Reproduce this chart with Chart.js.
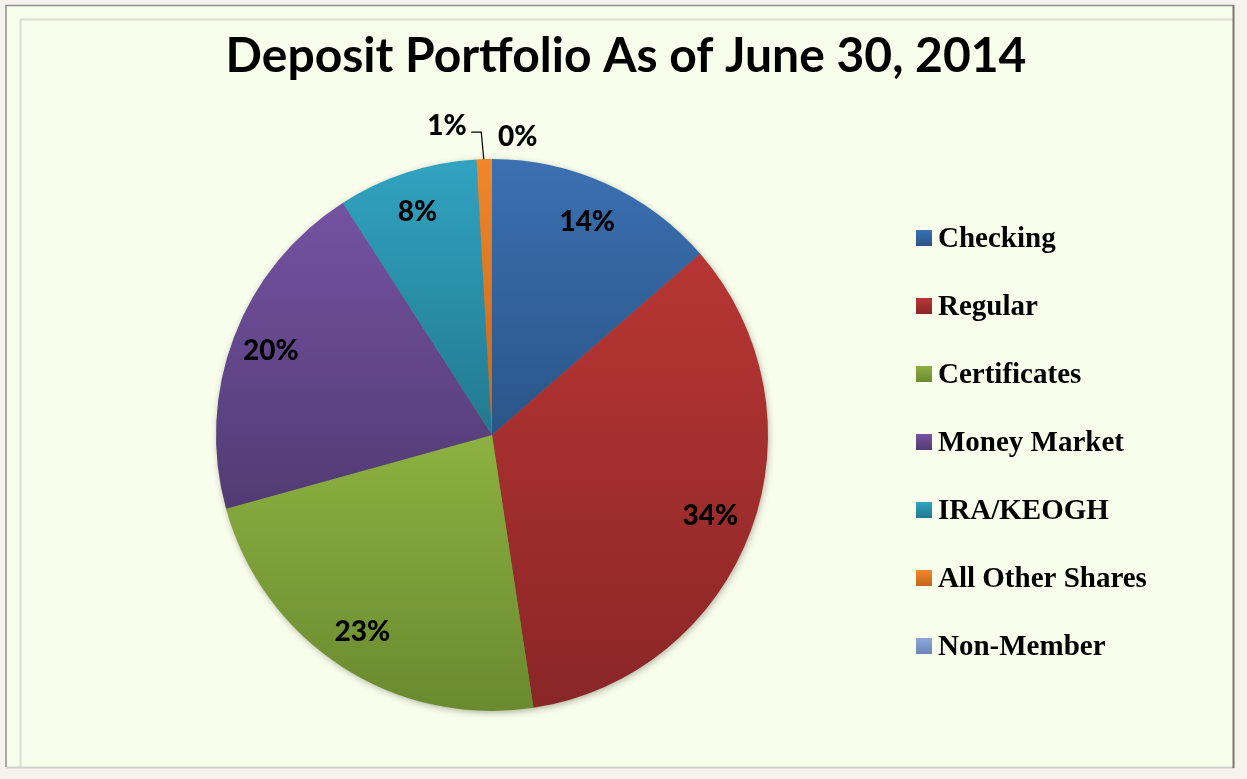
<!DOCTYPE html>
<html>
<head>
<meta charset="utf-8">
<title>Deposit Portfolio As of June 30, 2014</title>
<script src="https://cdn.jsdelivr.net/npm/chart.js@4.4.1/dist/chart.umd.min.js"></script>
<style>
  html, body { margin: 0; padding: 0; background: #f4f4ec; }
  canvas { display: block; }
</style>
</head>
<body>
<canvas id="chart" width="1247" height="779"></canvas>
<script>
// deposit mix (percent of total deposits)
var categories = ['Checking', 'Regular', 'Certificates', 'Money Market', 'IRA/KEOGH', 'All Other Shares', 'Non-Member'];
var shares = [13.6, 34.0, 23.1, 20.2, 8.2, 0.85, 0.05];
var chartTitle = 'Deposit Portfolio As of June 30, 2014';

// top / bottom colour of each slice gradient (Excel 2007 office theme look)
var topColors = ['#3b70b2', '#b83634', '#8db141', '#7452a2', '#31a3c1', '#f0872a', '#8ea9d8'];
var bottomColors = ['#2a5588', '#8a2626', '#6a8a2f', '#523b73', '#22798f', '#c4661c', '#6a86b6'];

var total = shares.reduce(function (a, b) { return a + b; }, 0);

// vertical extent of slice i, used for its own top->bottom gradient
function sliceBox(chart, i) {
  var area = chart.chartArea;
  var cx = (area.left + area.right) / 2;
  var cy = (area.top + area.bottom) / 2;
  var r = Math.min(area.right - area.left, area.bottom - area.top) / 2;
  var before = 0;
  for (var k = 0; k < i; k++) before += shares[k];
  var a0 = -Math.PI / 2 + before / total * Math.PI * 2;
  var a1 = a0 + shares[i] / total * Math.PI * 2;
  var ys = [cy, cy + r * Math.sin(a0), cy + r * Math.sin(a1)];
  // does the arc pass through the very top or bottom of the circle?
  [-Math.PI / 2, Math.PI / 2, Math.PI * 1.5].forEach(function (a) {
    if (a >= a0 && a <= a1) ys.push(cy + r * Math.sin(a));
  });
  return { top: Math.min.apply(null, ys), bottom: Math.max.apply(null, ys) };
}

function sliceFill(context) {
  var chart = context.chart;
  var i = context.dataIndex;
  if (!chart.chartArea || i === undefined) return topColors[i || 0];
  var box = sliceBox(chart, i);
  if (box.bottom - box.top < 1) box.bottom = box.top + 1;
  var g = chart.ctx.createLinearGradient(0, box.top, 0, box.bottom);
  g.addColorStop(0, topColors[i]);
  g.addColorStop(1, bottomColors[i]);
  return g;
}

// background frame, title, soft shadow behind the pie
var framePlugin = {
  id: 'frame',
  beforeDraw: function (chart) {
    var ctx = chart.ctx;
    ctx.save();
    ctx.fillStyle = '#f4f4ec';
    ctx.fillRect(0, 0, chart.width, chart.height);
    ctx.fillStyle = '#f8fdec';
    ctx.fillRect(6, 5, 1228, 763);
    ctx.strokeStyle = '#dedfd2';
    ctx.lineWidth = 2;
    ctx.beginPath();
    ctx.moveTo(20.5, 767);
    ctx.lineTo(20.5, 19.5);
    ctx.lineTo(1233, 19.5);
    ctx.stroke();
    ctx.strokeStyle = '#d2d3c8';
    ctx.beginPath();
    ctx.moveTo(6, 767.5);
    ctx.lineTo(1234, 767.5);
    ctx.stroke();
    ctx.strokeStyle = '#8f8f8f';
    ctx.lineWidth = 1.5;
    ctx.beginPath();
    ctx.moveTo(6, 767);
    ctx.lineTo(6, 5.5);
    ctx.lineTo(1234, 5.5);
    ctx.stroke();
    ctx.strokeStyle = '#777';
    ctx.lineWidth = 2;
    ctx.beginPath();
    ctx.moveTo(1233.5, 5);
    ctx.lineTo(1233.5, 768);
    ctx.stroke();

    ctx.fillStyle = '#000';
    ctx.font = 'bold 48px Lato';
    ctx.textAlign = 'center';
    ctx.textBaseline = 'alphabetic';
    ctx.fillText(chartTitle, 626, 72);
    ctx.restore();
  },
  beforeDatasetsDraw: function (chart) {
    var arc = chart.getDatasetMeta(0).data[0];
    if (!arc) return;
    var ctx = chart.ctx;
    ctx.save();
    ctx.shadowColor = 'rgba(60, 60, 40, 0.45)';
    ctx.shadowBlur = 7;
    ctx.shadowOffsetX = 1;
    ctx.shadowOffsetY = 2;
    ctx.fillStyle = '#6a7a5a';
    ctx.beginPath();
    ctx.arc(arc.x, arc.y, arc.outerRadius - 1, 0, Math.PI * 2);
    ctx.fill();
    ctx.restore();
  }
};

// percent labels inside the slices, tiny slices get outside labels
var labelPlugin = {
  id: 'sliceLabels',
  afterDatasetsDraw: function (chart) {
    var ctx = chart.ctx;
    var meta = chart.getDatasetMeta(0);
    ctx.save();
    ctx.fillStyle = '#000';
    ctx.font = '900 28px Lato';
    ctx.textAlign = 'center';
    ctx.textBaseline = 'middle';
    meta.data.forEach(function (arc, i) {
      var pct = Math.round(shares[i] / total * 100) + '%';
      var mid = (arc.startAngle + arc.endAngle) / 2;
      var R = arc.outerRadius;
      if (shares[i] / total > 0.03) {
        ctx.fillText(pct, arc.x + Math.cos(mid) * R * 0.85 - 2, arc.y + Math.sin(mid) * R * 0.85);
        return;
      }
      if (i === categories.length - 2) {
        // leader line from the slice edge up and to the left
        var ex = arc.x + Math.cos(mid) * R;
        var ey = arc.y + Math.sin(mid) * R;
        ctx.strokeStyle = '#000';
        ctx.lineWidth = 1.2;
        ctx.beginPath();
        ctx.moveTo(ex, ey);
        ctx.lineTo(ex - 2.5, ey - 27);
        ctx.lineTo(ex - 12.5, ey - 27);
        ctx.stroke();
        ctx.textAlign = 'right';
        ctx.fillText(pct, ex - 17, ey - 33);
      } else {
        ctx.textAlign = 'left';
        ctx.fillText(pct, arc.x + 6, arc.y - R - 22);
      }
      ctx.textAlign = 'center';
    });
    ctx.restore();
  }
};

// legend on the right, drawn from the same category list and colours
var legendPlugin = {
  id: 'sideLegend',
  afterDraw: function (chart) {
    var ctx = chart.ctx;
    ctx.save();
    ctx.font = 'bold 29px "Liberation Serif"';
    ctx.textAlign = 'left';
    ctx.textBaseline = 'middle';
    categories.forEach(function (name, i) {
      var y = 238 + i * 68;
      var g = ctx.createLinearGradient(0, y - 8, 0, y + 8);
      g.addColorStop(0, topColors[i]);
      g.addColorStop(1, bottomColors[i]);
      ctx.fillStyle = g;
      ctx.fillRect(916, y - 8, 16, 16);
      ctx.fillStyle = '#000';
      ctx.fillText(name, 938, y + 2);
    });
    ctx.restore();
  }
};

new Chart(document.getElementById('chart'), {
  type: 'pie',
  data: {
    labels: categories,
    datasets: [{
      data: shares,
      backgroundColor: sliceFill,
      borderWidth: 0,
      hoverOffset: 0
    }]
  },
  options: {
    responsive: false,
    animation: false,
    devicePixelRatio: 1,
    layout: { padding: { top: 159, bottom: 68, left: 216, right: 479 } },
    plugins: {
      legend: { display: false },
      title: { display: false },
      tooltip: { enabled: false }
    }
  },
  plugins: [framePlugin, labelPlugin, legendPlugin]
});
</script>
</body>
</html>
